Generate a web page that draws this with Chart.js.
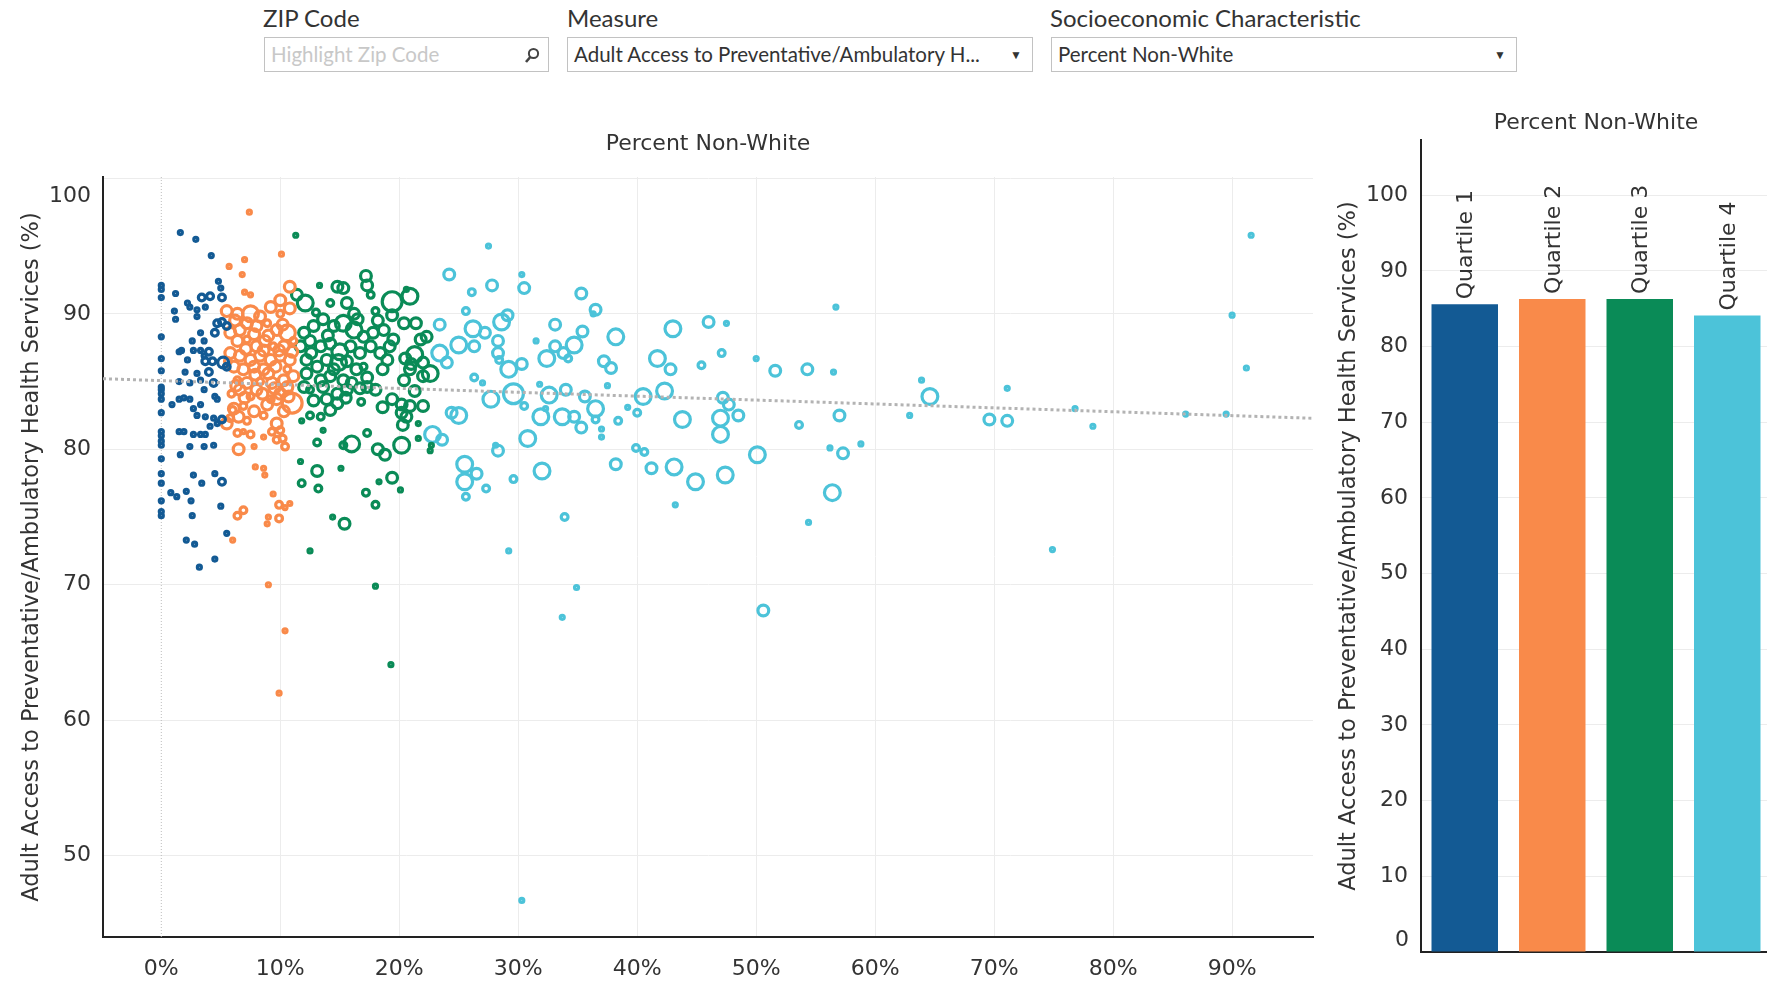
<!DOCTYPE html>
<html>
<head>
<meta charset="utf-8">
<script src="https://cdn.jsdelivr.net/npm/chart.js@4.4.0/dist/chart.umd.min.js"></script>
<style>
  html, body { margin: 0; padding: 0; width: 1767px; height: 981px; overflow: hidden; background: #fff; }
  .lbl { position: absolute; top: 3px; font-family: 'Lato', sans-serif; font-size: 24px; color: #333; white-space: nowrap; }
  .box { position: absolute; top: 37px; height: 35px; line-height: 33px; border: 1px solid #c2c2c2; background: #fff;
         font-family: 'Lato', sans-serif; font-size: 20.5px; color: #333; padding-left: 6px; white-space: nowrap; overflow: hidden; box-sizing: border-box; }
  .box .ph { color: #c8c8c8; }
  .box .arrow { position: absolute; right: 10px; top: 0; font-size: 12px; color: #333; }
  .box svg { position: absolute; right: 8px; top: 9px; }
  canvas { position: absolute; top: 0; }
</style>
</head>
<body>
<div class="lbl" style="left:263px">ZIP Code</div>
<div class="box" style="left:264px;width:285px"><span class="ph">Highlight Zip Code</span>
  <svg width="16" height="17" viewBox="0 0 16 17"><circle cx="9.5" cy="6.5" r="4.6" fill="none" stroke="#444" stroke-width="2"/><line x1="6.3" y1="10" x2="2" y2="15" stroke="#444" stroke-width="2.6"/></svg>
</div>
<div class="lbl" style="left:567px">Measure</div>
<div class="box" style="left:567px;width:466px">Adult Access to Preventative/Ambulatory H...<span class="arrow">&#9660;</span></div>
<div class="lbl" style="left:1050px">Socioeconomic Characteristic</div>
<div class="box" style="left:1051px;width:466px">Percent Non-White<span class="arrow">&#9660;</span></div>

<canvas id="scatterChart" width="1330" height="981" style="left:0"></canvas>
<canvas id="barChart" width="450" height="981" style="left:1325px"></canvas>

<script>
const quartileNames = ["Quartile 1", "Quartile 2", "Quartile 3", "Quartile 4"];
const quartileColors = ["#135a94", "#f98a4a", "#0a8b57", "#4cc3d9"];
const quartileMeans = [85.6, 86.3, 86.3, 84.1];
const xTickValues = [0, 10, 20, 30, 40, 50, 60, 70, 80, 90];
const trendLine = [[-4.9, 85.21], [96.8, 82.29]];

// [percent non-white, access %, size class]
const q1Points = [
  [0,92.1,1],[0,91.8,1],[0,91.2,1],[0,88.3,1],[0,86.7,1],[0,85.8,1],[0,84.6,1],[0,84.4,1],[0,84.1,1],[0,83.7,1],
  [0,82.7,1],[0,81.3,1],[0,81.0,1],[0,80.6,1],[0,80.3,1],[0,79.3,1],[0,78.2,1],[0,77.5,1],[0,76.2,1],[0,75.4,1],[0,75.1,1],
  [1.6,96.0,1],[2.9,95.5,1],[4.2,94.3,1],
  [1.2,91.5,1],[1.1,90.2,1],[1.2,89.6,1],[2.2,90.8,1],[2.4,90.5,1],[3.0,90.3,1],[3.0,89.8,1],[3.4,91.2,2],[4.1,91.3,2],
  [4.8,92.4,1],[5.0,91.9,1],[5.1,91.2,2],[3.7,90.5,1],[4.7,89.3,2],[5.1,89.4,2],[5.5,89.1,2],[4.5,88.6,2],[3.3,88.6,1],
  [3.6,88.0,1],[1.5,87.2,1],[1.7,87.3,1],[2.6,88.0,1],[2.7,87.3,1],[3.3,87.3,1],[3.6,86.9,1],[4.0,87.2,2],[3.7,86.5,2],
  [4.3,86.5,2],[5.2,86.4,3],[5.5,86.1,2],[2.2,86.6,1],[2.0,85.7,1],[3.0,85.6,1],[4.0,85.7,2],[1.5,85.0,1],[2.4,84.9,1],
  [3.3,85.1,1],[3.6,84.4,1],[4.4,84.9,2],[0.9,83.3,1],[1.5,83.7,1],[1.9,83.8,1],[2.4,83.7,1],[2.7,83.0,1],[3.3,83.3,1],
  [4.5,83.9,1],[4.7,83.7,1],[3.0,82.5,1],[3.7,82.4,1],[4.4,82.3,1],[4.7,81.9,1],[5.1,82.2,2],[4.1,81.7,1],[1.5,81.3,1],
  [1.9,81.3,1],[2.7,81.1,1],[3.3,81.1,1],[3.7,81.1,1],[2.4,80.2,1],[3.6,80.2,1],[4.4,80.3,1],[1.6,79.6,1],[2.7,78.1,1],
  [3.4,77.5,1],[4.5,78.2,1],[5.1,77.6,2],[0.8,76.8,1],[1.3,76.5,1],[2.1,76.9,1],[2.5,76.2,1],[2.6,75.1,1],[5.0,75.8,1],
  [5.5,73.8,1],[2.1,73.3,1],[2.8,73.0,1],[4.5,71.9,1],[3.2,71.3,1]
];
const q2Points = [
  [7.4,97.5,1],[10.1,94.4,1],[7.0,94.0,1],[5.7,93.5,1],[6.8,92.9,1],[7.0,91.6,1],[7.5,91.4,1],[10.8,92.0,3],[10.0,91.0,3],
  [5.5,90.2,3],[6.4,90.0,3],[7.5,90.0,4],[8.3,89.8,3],[9.2,90.5,3],[10.0,90.0,2],[10.8,90.4,3],
  [5.8,88.6,3],[6.6,88.8,3],[7.2,89.3,3],[8.0,89.1,3],[8.9,89.3,2],[9.7,88.8,3],[10.6,88.6,4],[11.1,88.0,2],[6.4,88.0,3],
  [7.2,88.1,2],[8.0,87.6,3],[8.7,88.0,3],[9.4,87.6,2],[10.3,87.6,3],[5.8,87.1,3],[6.6,86.9,3],[7.5,86.6,3],[8.3,86.9,3],
  [9.2,86.6,3],[10.0,86.9,3],[10.8,86.6,3],[6.1,86.1,3],[6.9,85.9,3],[7.8,86.1,3],[8.6,85.9,3],[9.6,86.1,3],[10.6,85.9,2],
  [6.4,85.1,2],[7.2,84.9,3],[8.3,85.0,2],[9.3,84.9,3],[10.3,85.1,3],[11.1,85.4,3],[5.9,84.1,2],[6.6,84.4,3],[7.5,83.9,2],
  [8.5,84.1,3],[9.2,83.7,2],[10.0,84.1,3],[11.0,83.4,5],[6.1,83.0,3],[6.9,83.2,2],[8.9,83.3,3],[9.7,83.7,3],[5.8,82.3,2],
  [6.5,82.4,3],[5.5,81.9,3],[9.7,81.9,3],[10.0,81.4,2],[6.4,81.2,2],[6.9,81.3,1],[7.5,81.1,2],[8.6,80.9,1],[9.3,81.3,2],
  [9.7,80.7,2],[10.4,80.2,2],[10.2,80.8,2],[6.5,80.0,3],[7.8,80.2,1],[7.9,78.7,1],[8.6,78.6,1],[8.7,78.1,1],[9.4,76.7,1],
  [9.9,75.9,2],[10.4,75.7,1],[10.8,76.0,1],[6.9,75.5,2],[6.4,75.1,2],[9.0,75.0,1],[8.9,74.5,1],[9.9,74.9,2],[6.0,73.3,1],
  [9.0,70.0,1],[10.4,66.6,1],[9.9,62.0,1],
  [6.2,89.5,3],[7.8,88.5,3],[9.0,88.4,3],[10.2,89.2,3],[5.6,86.5,2],[7.1,87.4,3],[8.6,87.3,3],[9.9,87.3,3],[11.0,87.2,3],
  [6.3,84.7,3],[7.9,85.5,3],[9.0,85.6,3],[10.6,84.6,3],[7.0,83.8,3],[8.0,84.4,3],[9.5,84.5,3],[10.7,83.9,3],[7.8,82.8,3],
  [8.6,82.5,2],[10.3,82.8,3],[6.0,82.9,2],[7.2,82.1,2]
];
const q3Points = [
  [11.3,95.8,1],[13.3,92.1,1],[14.8,92.0,3],[15.3,91.9,3],[17.2,92.8,3],[17.3,92.1,3],[17.6,91.4,2],[11.4,91.4,3],[12.1,90.8,4],
  [14.2,90.8,2],[15.6,90.8,3],[16.2,90.0,3],[18.0,90.2,2],[19.4,90.9,5],[20.9,91.3,4],[20.6,91.8,1],[19.4,89.9,3],[20.4,89.3,3],
  [21.4,89.3,3],[21.8,88.1,3],[22.3,88.3,3],
  [12.0,88.6,3],[12.8,89.1,3],[13.6,89.6,3],[14.5,89.1,3],[15.3,89.3,4],[16.2,88.8,4],[17.0,88.3,3],[17.8,88.6,3],[18.7,88.8,3],
  [19.5,88.1,3],[11.7,87.6,3],[12.5,88.0,3],[13.4,87.6,3],[14.2,87.8,3],[15.0,87.2,4],[15.9,87.6,3],[16.7,87.1,3],[17.6,87.6,3],
  [18.4,87.1,3],[19.2,87.6,3],[20.5,86.7,3],[21.3,87.0,4],[22.0,86.4,3],[22.6,85.6,4],[22.0,85.4,3],[20.9,85.9,3],[20.4,85.1,3],
  [12.2,86.6,3],[13.1,86.1,3],[13.9,86.6,3],[14.9,86.4,4],[15.6,86.5,3],[16.4,85.9,3],[17.0,86.1,2],[12.2,85.6,3],[13.4,85.1,3],
  [14.2,85.4,3],[15.3,85.1,3],[12.0,84.6,3],[12.5,84.4,2],[13.6,84.6,3],[14.8,84.1,3],[15.6,84.4,3],[16.7,84.5,3],[17.3,84.6,3],
  [18.0,84.4,3],[13.9,83.7,3],[14.8,83.4,3],[15.5,83.8,3],[14.2,82.9,3],[20.2,83.3,3],[20.9,83.2,3],[20.2,82.7,3],[20.6,82.4,3],
  [22.0,83.2,3],[21.6,81.9,1],[20.3,81.8,3],[19.4,83.7,3],[12.5,82.5,2],[13.4,82.4,2],[11.8,82.1,1],[13.6,81.4,1],[16.0,80.4,4],
  [15.3,80.3,2],[17.3,81.2,2],[18.2,80.0,3],[18.8,79.6,3],[20.2,80.3,4],[21.6,80.8,1],[22.7,80.3,1],[13.1,80.5,2],[13.1,78.4,3],
  [11.7,79.1,1],[11.8,77.5,2],[13.2,77.1,2],[15.1,78.6,1],[18.3,77.6,1],[19.4,77.9,3],[20.1,77.0,1],[17.2,76.8,2],[18.0,75.9,2],
  [14.4,75.0,1],[15.4,74.5,3],[12.5,72.5,1],[18.0,69.9,1],[19.3,64.1,1],[22.6,79.9,1],
  [12.6,87.1,3],[14.0,88.4,3],[16.5,89.6,3],[18.2,89.5,3],[19.0,86.6,3],[17.3,85.3,3],[18.6,85.9,3],[16.0,84.9,3],[12.8,83.6,3],
  [16.8,83.5,2],[18.6,83.1,3],[21.3,84.3,3],[21.0,86.3,3],[13.0,90.1,2],[14.5,85.9,3]
];
const q4Points = [
  [27.5,95.0,1],[24.2,92.9,3],[30.3,92.9,1],[27.8,92.1,3],[30.5,91.9,3],[26.1,91.6,2],[35.3,91.5,3],[36.5,90.3,3],[36.3,90.0,1],
  [25.6,90.2,2],[28.6,89.4,4],[29.1,89.9,3],[23.4,89.2,3],[26.2,88.9,4],[33.1,89.2,3],[35.4,88.7,3],[38.2,88.3,4],[43.0,88.9,4],
  [46.0,89.4,3],[47.5,89.3,1],[56.7,90.5,1],[25.0,87.7,4],[26.3,87.6,3],[27.2,88.6,3],[28.3,88.0,3],[28.3,87.1,3],[28.4,86.6,2],
  [31.5,88.0,1],[32.4,86.7,4],[33.1,87.6,3],[33.8,87.1,3],[34.2,86.7,2],[34.7,87.7,4],[37.2,86.5,3],[37.8,86.0,3],[41.7,86.7,4],
  [42.8,85.9,3],[45.4,86.2,2],[47.1,87.1,2],[50.0,86.7,1],[51.6,85.8,3],[54.3,85.9,3],[56.5,85.7,1],[24.0,86.4,3],[23.4,87.1,4],
  [26.3,85.3,2],[27.0,84.9,1],[29.2,85.9,4],[30.3,86.3,3],[27.7,83.7,4],[29.6,84.1,5],[30.5,83.2,2],[31.8,84.8,1],[32.6,84.0,4],
  [34.0,84.4,3],[35.6,83.9,3],[36.5,83.0,4],[32.3,83.0,1],[31.9,82.4,4],[33.7,82.4,4],[34.7,82.4,3],[35.3,81.6,3],[36.5,82.2,2],
  [37.0,81.5,1],[37.0,80.9,1],[37.5,84.7,1],[39.2,83.1,1],[40.0,82.7,2],[40.5,83.9,4],[42.3,84.3,4],[38.4,82.1,2],[43.8,82.2,4],
  [47.2,83.8,3],[47.7,83.3,3],[48.5,82.5,3],[47.0,82.3,4],[47.0,81.1,4],[53.6,81.8,2],[57.0,82.5,3],[24.4,82.7,3],[25.0,82.5,4],
  [22.8,81.1,4],[23.6,80.7,3],[30.8,80.8,4],[28.3,79.9,3],[28.1,80.3,1],[25.5,78.9,4],[25.5,77.6,4],[26.5,78.2,3],[25.6,76.5,2],
  [27.3,77.1,2],[29.6,77.8,2],[32.0,78.4,4],[38.2,78.9,3],[39.9,80.1,2],[40.6,79.8,2],[41.2,78.6,3],[43.1,78.7,4],[44.9,77.6,4],
  [47.4,78.1,4],[50.1,79.6,4],[56.4,76.8,4],[56.2,80.1,1],[57.3,79.7,3],[43.2,75.9,1],[58.8,80.4,1],[54.4,74.6,1],[63.9,85.1,1],
  [64.6,83.9,4],[62.9,82.5,1],[69.6,82.2,3],[71.1,82.1,3],[71.1,84.5,1],[76.8,83.0,1],[78.3,81.7,1],[74.9,72.6,1],[86.1,82.6,1],
  [89.5,82.6,1],[90.0,89.9,1],[91.2,86.0,1],[91.6,95.8,1],[33.9,75.0,2],[29.2,72.5,1],[34.9,69.8,1],[33.7,67.6,1],[30.3,46.7,1],
  [50.6,68.1,3]
];

const quartilePoints = [q1Points, q2Points, q3Points, q4Points];
const radiusBySize = [0, 2, 3.4, 5.4, 7.9, 9.9];
const axisTitle = "Adult Access to Preventative/Ambulatory Health Services (%)";
const fontFamily = "'DejaVu Sans', sans-serif";
const textColor = "#333";

// Tableau nudges the outermost axis label inside the plot; redraw that one label shifted
const shiftedEdgeTick = {
  id: "shiftedEdgeTick",
  afterDraw(chart, args, opts) {
    const ctx = chart.ctx;
    ctx.save();
    ctx.font = "22px " + fontFamily;
    ctx.fillStyle = textColor;
    ctx.textAlign = "right";
    ctx.textBaseline = "middle";
    ctx.fillText(String(opts.value), chart.chartArea.left - 12, chart.scales.y.getPixelForValue(opts.value) + opts.shift);
    ctx.restore();
  }
};

const scatterSets = quartilePoints.map((pts, i) => ({
  label: quartileNames[i],
  data: pts.map(p => ({ x: p[0], y: p[1], s: p[2] })),
  borderColor: quartileColors[i],
  backgroundColor: "rgba(0,0,0,0)",
  pointBorderColor: quartileColors[i],
  pointBackgroundColor: "rgba(0,0,0,0)",
  pointBorderWidth: 3.2,
  pointRadius: ctx => ctx.raw ? radiusBySize[ctx.raw.s] : 3,
  order: 2
}));

new Chart("scatterChart", {
  type: "scatter",
  data: {
    datasets: [
      {
        type: "line",
        data: [{ x: 0, y: 44 }, { x: 0, y: 100.1 }],
        borderColor: "#bdbdbd",
        borderWidth: 1,
        borderDash: [1, 2],
        pointRadius: 0,
        order: 3
      },
      ...scatterSets,
      {
        type: "line",
        data: trendLine.map(p => ({ x: p[0], y: p[1] })),
        borderColor: "#b3b3b3",
        borderWidth: 3,
        borderDash: [3, 3],
        pointRadius: 0,
        order: 0
      }
    ]
  },
  options: {
    responsive: false,
    animation: false,
    events: [],
    layout: { padding: { left: 0, right: 17, top: 0, bottom: 0 } },
    plugins: {
      legend: { display: false },
      tooltip: { enabled: false },
      shiftedEdgeTick: { value: 100, shift: 18 },
      title: {
        display: true,
        text: "Percent Non-White",
        fullSize: false,
        color: textColor,
        font: { family: fontFamily, size: 22, weight: "normal" },
        padding: { top: 131, bottom: 19.6 }
      }
    },
    scales: {
      x: {
        type: "linear",
        min: -4.9,
        max: 96.8,
        afterFit: s => { s.height = 44; },
        ticks: {
          stepSize: 10,
          includeBounds: false,
          padding: 19,
          color: textColor,
          font: { family: fontFamily, size: 22 },
          callback: v => xTickValues.includes(v) ? v + "%" : ""
        },
        grid: { color: ctx => ctx.tick && ctx.tick.value === 0 ? "rgba(0,0,0,0)" : "#ececec", drawTicks: false },
        border: { color: "#222", width: 2 }
      },
      y: {
        min: 44,
        max: 100.1,
        afterFit: s => { s.width = 103; },
        ticks: {
          stepSize: 10, includeBounds: false, padding: 12, color: textColor,
          font: { family: fontFamily, size: 22 },
          callback: v => v === 100 ? "" : v
        },
        grid: { color: "#ececec", drawTicks: false },
        border: { color: "#222", width: 2 },
        title: {
          display: true,
          text: axisTitle,
          color: textColor,
          font: { family: fontFamily, size: 22.5 },
          padding: { top: 19, bottom: 0 }
        }
      }
    }
  },
  plugins: [shiftedEdgeTick]
});

const barTopLabels = {
  id: "barTopLabels",
  afterDatasetsDraw(chart) {
    const ctx = chart.ctx;
    const meta = chart.getDatasetMeta(0);
    ctx.save();
    ctx.font = "22px " + fontFamily;
    ctx.fillStyle = textColor;
    ctx.textAlign = "left";
    ctx.textBaseline = "middle";
    meta.data.forEach((bar, i) => {
      ctx.save();
      ctx.translate(bar.x + 2, bar.y - 5);
      ctx.rotate(-Math.PI / 2);
      ctx.fillText(chart.data.labels[i], 0, 0);
      ctx.restore();
    });
    ctx.restore();
  }
};

new Chart("barChart", {
  type: "bar",
  data: {
    labels: quartileNames,
    datasets: [{
      data: quartileMeans,
      backgroundColor: quartileColors,
      categoryPercentage: 1,
      barPercentage: 0.76
    }]
  },
  options: {
    responsive: false,
    animation: false,
    events: [],
    layout: { padding: { left: 0, right: 4, top: 0, bottom: 0 } },
    plugins: {
      legend: { display: false },
      tooltip: { enabled: false },
      shiftedEdgeTick: { value: 0, shift: -12 },
      title: {
        display: true,
        text: "Percent Non-White",
        fullSize: false,
        color: textColor,
        font: { family: fontFamily, size: 22, weight: "normal" },
        padding: { top: 110, bottom: 3.6 }
      }
    },
    scales: {
      x: {
        afterFit: s => { s.height = 29; },
        ticks: { display: false },
        grid: { display: false },
        border: { color: "#222", width: 2 }
      },
      y: {
        min: 0,
        max: 107.3,
        afterFit: s => { s.width = 96; },
        ticks: {
          stepSize: 10, includeBounds: false, padding: 13, color: textColor,
          font: { family: fontFamily, size: 22 },
          callback: v => v === 0 ? "" : v
        },
        grid: { color: "#ececec", drawTicks: false },
        border: { color: "#222", width: 2 },
        title: {
          display: true,
          text: axisTitle,
          color: textColor,
          font: { family: fontFamily, size: 22.5 },
          padding: { top: 11, bottom: 0 }
        }
      }
    }
  },
  plugins: [barTopLabels, shiftedEdgeTick]
});
</script>
</body>
</html>
